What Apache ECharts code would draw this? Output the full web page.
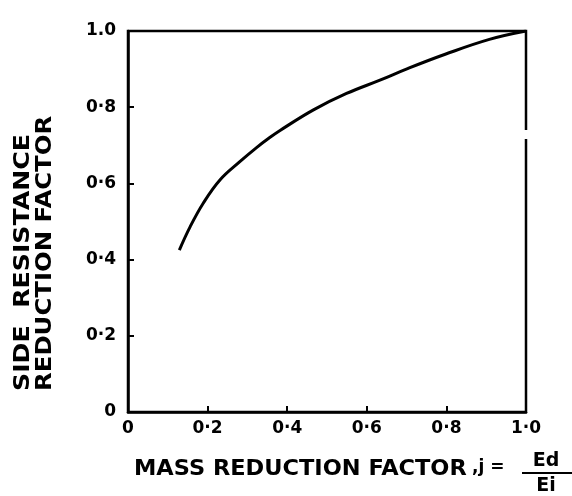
<!DOCTYPE html>
<html>
<head>
<meta charset="utf-8">
<script src="https://cdn.jsdelivr.net/npm/echarts@6/dist/echarts.min.js"></script>
<style>
  html, body { margin: 0; padding: 0; background: #fff; }
  #chart { width: 572px; height: 496px; }
</style>
</head>
<body>
<div id="chart"></div>
<script>
// ---- data ----
const massReduction = [0.129, 0.156, 0.189, 0.231, 0.281, 0.323, 0.357, 0.382, 0.466, 0.549, 0.633, 0.704, 0.797, 0.908, 1.0];
const sideResistance = [0.425, 0.486, 0.548, 0.609, 0.657, 0.694, 0.721, 0.739, 0.793, 0.836, 0.871, 0.902, 0.939, 0.978, 1.0];
const xTickLabels = ['0', '0·2', '0·4', '0·6', '0·8', '1·0'];
const yTickLabels = ['0', '0·2', '0·4', '0·6', '0·8', '1.0'];
const yTitleLine1 = 'SIDE  RESISTANCE';
const yTitleLine2 = 'REDUCTION FACTOR';
const xTitleMain = 'MASS REDUCTION FACTOR';
const xTitleSym = ',j =';
const fracNum = 'Ed';
const fracDen = 'Ei';

const FONT = '"DejaVu Sans", "Liberation Sans", sans-serif';
const chart = echarts.init(document.getElementById('chart'), null, { renderer: 'canvas' });

const curve = massReduction.map((x, i) => [x, sideResistance[i]]);

const axisCommon = {
  type: 'value', min: 0, max: 1, interval: 0.2,
  axisLine: { show: true, onZero: false, lineStyle: { color: '#000', width: 2.5 } },
  axisTick: { show: true, inside: true, length: 6, lineStyle: { color: '#000', width: 2 } },
  splitLine: { show: false }
};

chart.setOption({
  backgroundColor: '#fff',
  animation: false,
  grid: { left: 128, right: 46, top: 31, bottom: 84, show: true, borderColor: '#000', borderWidth: 2.5, backgroundColor: 'transparent' },
  xAxis: Object.assign({}, axisCommon, {
    axisLabel: {
      color: '#000', fontFamily: FONT, fontWeight: 'bold', fontSize: 17, margin: 8,
      formatter: v => xTickLabels[Math.round(v / 0.2)]
    }
  }),
  yAxis: Object.assign({}, axisCommon, {
    axisLabel: {
      color: '#000', fontFamily: FONT, fontWeight: 'bold', fontSize: 17, margin: 12,
      formatter: v => yTickLabels[Math.round(v / 0.2)]
    }
  }),
  series: [{
    type: 'line', data: curve, smooth: 0.4, symbol: 'none',
    lineStyle: { color: '#000', width: 3 }
  }],
  graphic: [
    // small break in the right border, as in the scan
    { type: 'rect', shape: { x: 523, y: 130, width: 6, height: 9 }, style: { fill: '#fff' }, z: 100 },
    { type: 'text', x: 24, y: 391, rotation: Math.PI / 2, scaleX: 1.2,
      style: { text: yTitleLine1, fill: '#000', font: 'bold 21px ' + FONT, textAlign: 'left', textVerticalAlign: 'middle' } },
    { type: 'text', x: 46, y: 391, rotation: Math.PI / 2, scaleX: 1.16,
      style: { text: yTitleLine2, fill: '#000', font: 'bold 21px ' + FONT, textAlign: 'left', textVerticalAlign: 'middle' } },
    { type: 'text', x: 134, y: 470, scaleX: 1.07,
      style: { text: xTitleMain, fill: '#000', font: 'bold 21px ' + FONT, textAlign: 'left', textVerticalAlign: 'middle' } },
    { type: 'text', x: 472, y: 468,
      style: { text: xTitleSym, fill: '#000', font: 'bold 17px ' + FONT, textAlign: 'left', textVerticalAlign: 'middle' } },
    { type: 'text', x: 546, y: 461,
      style: { text: fracNum, fill: '#000', font: 'bold 19px ' + FONT, textAlign: 'center', textVerticalAlign: 'middle' } },
    { type: 'line', shape: { x1: 522, y1: 473, x2: 572, y2: 473 }, style: { stroke: '#000', lineWidth: 2 } },
    { type: 'text', x: 546, y: 486,
      style: { text: fracDen, fill: '#000', font: 'bold 19px ' + FONT, textAlign: 'center', textVerticalAlign: 'middle' } }
  ]
});
</script>
</body>
</html>
